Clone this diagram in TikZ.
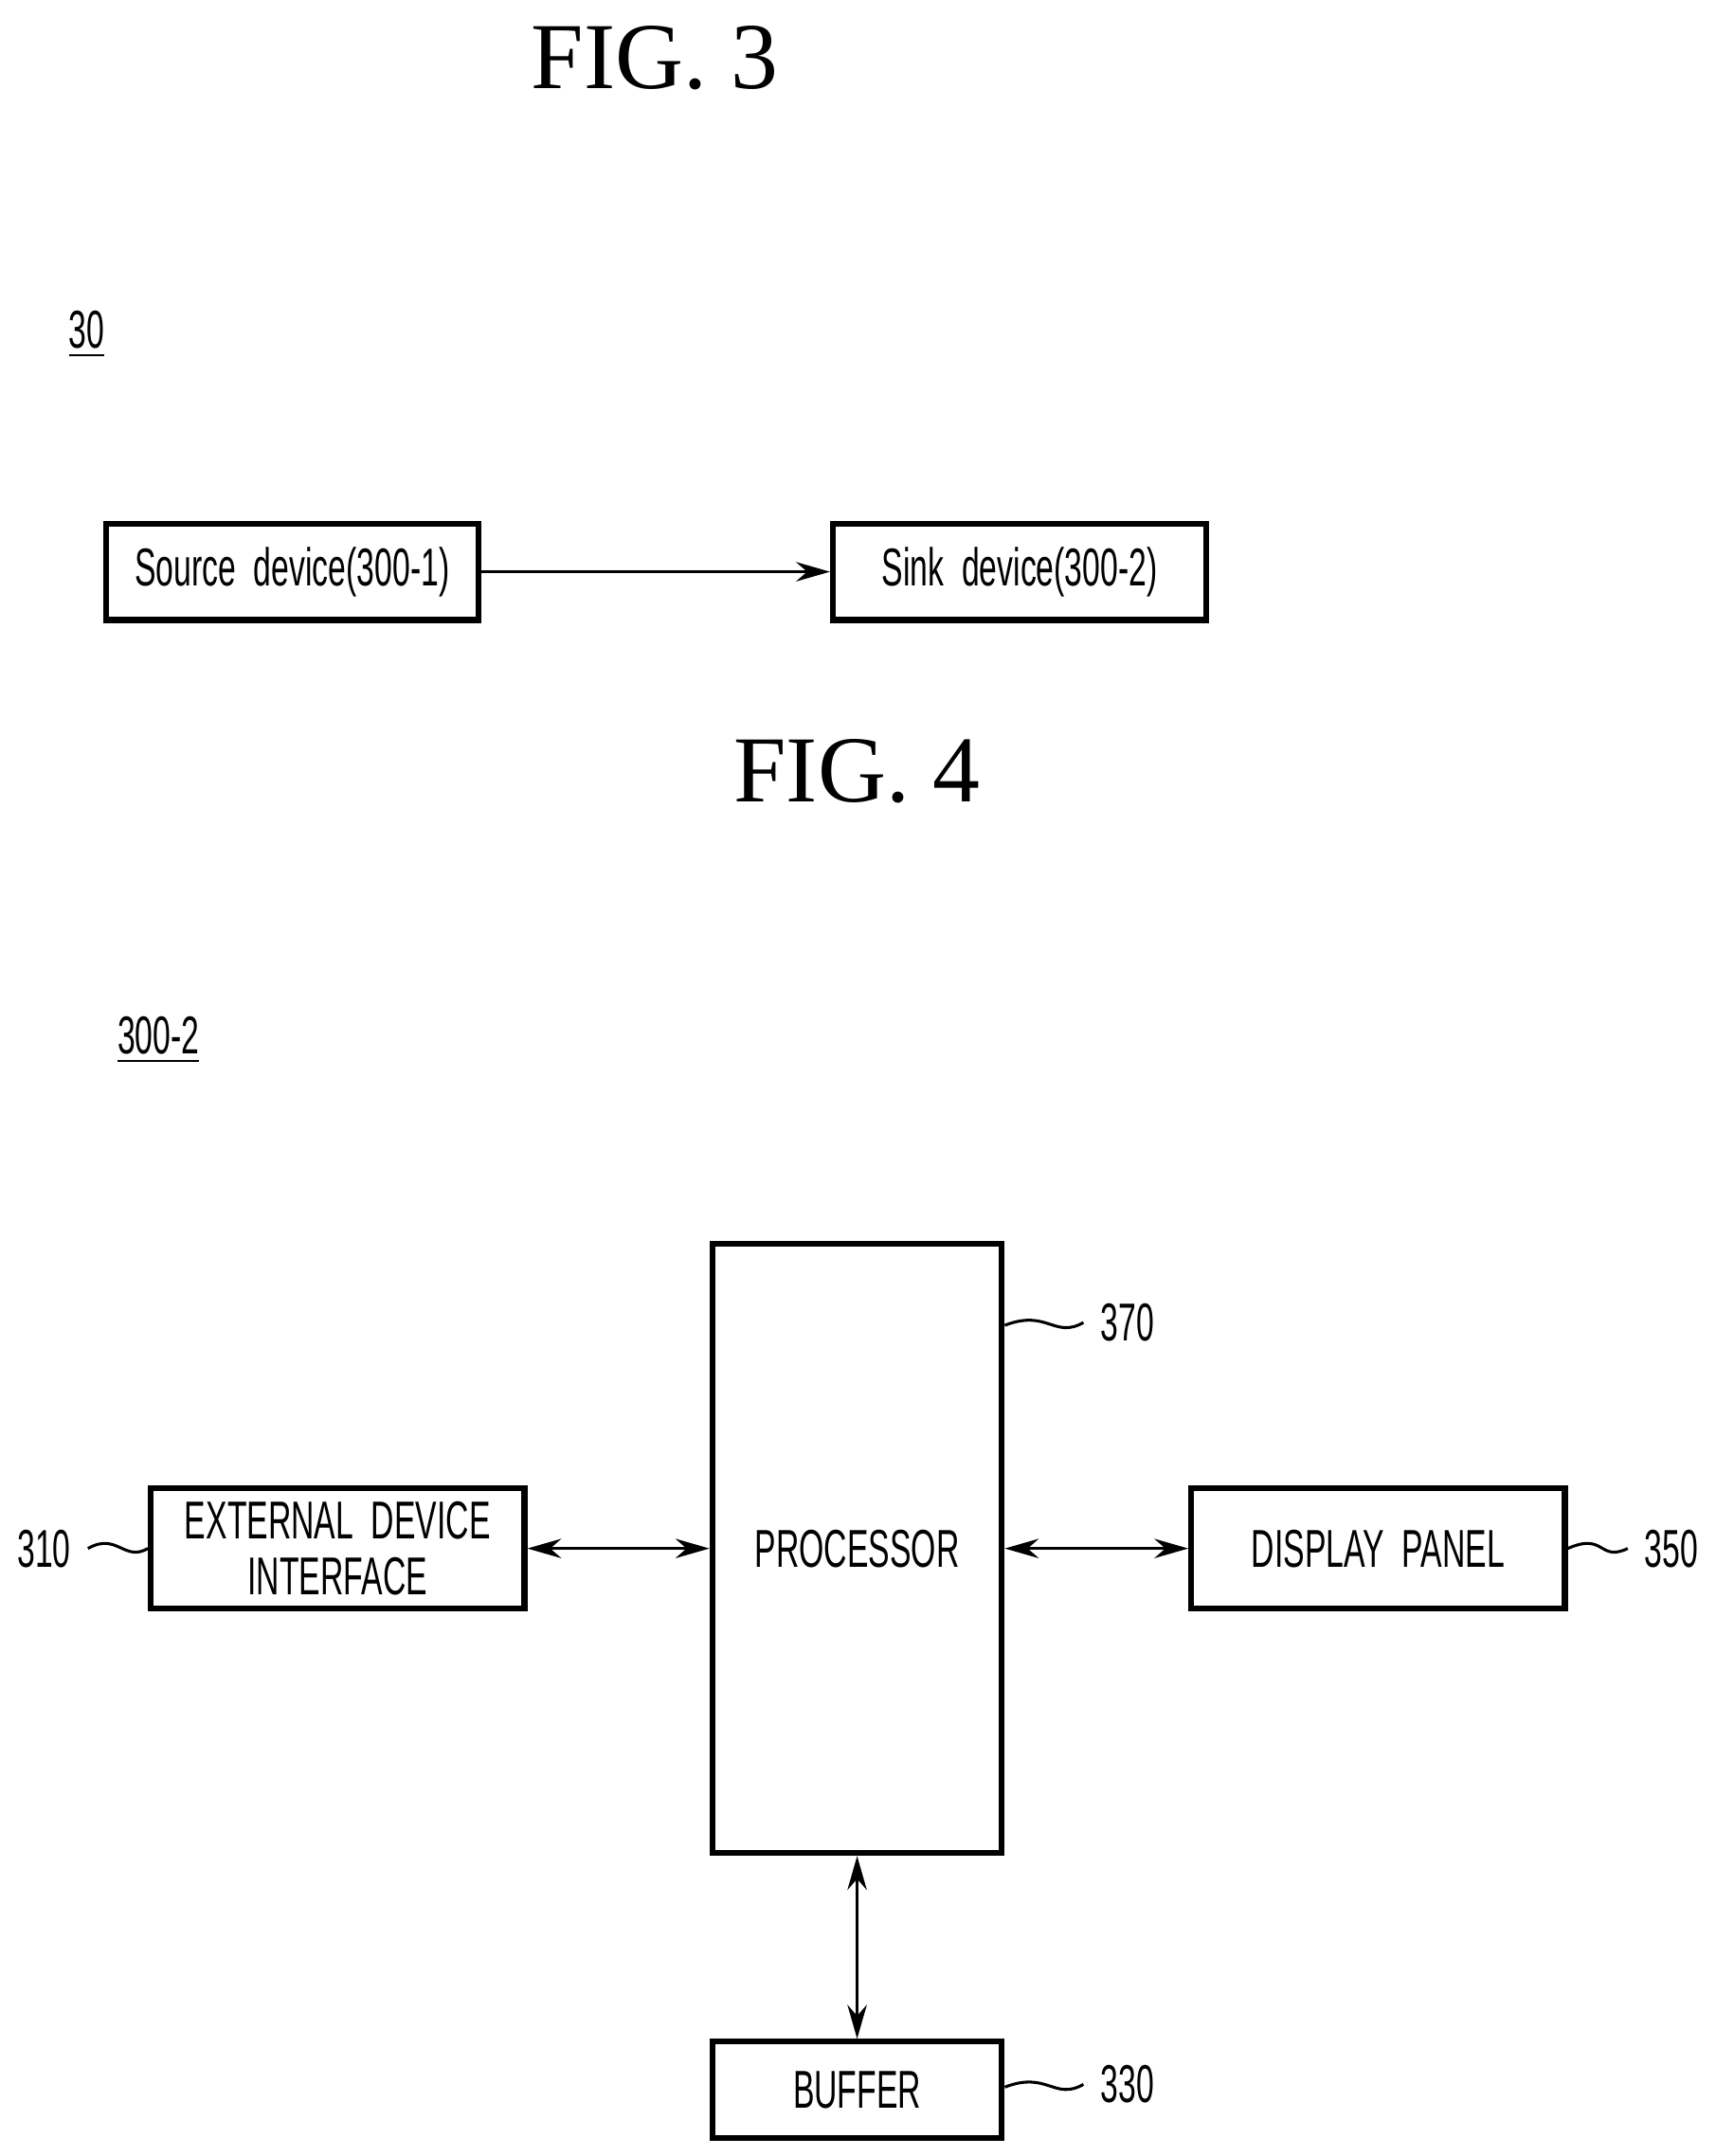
\documentclass[tikz,border=0pt]{standalone}
\usepackage{fontspec}
\setmainfont{Liberation Serif}
\newfontfamily\lblfont[FakeStretch=0.6]{Liberation Sans}
\usetikzlibrary{arrows.meta,positioning}
\tikzset{
  blk/.style={draw,line width=1.2pt,font=\lblfont\fontsize{11}{11.5}\selectfont,align=center,inner sep=0pt},
  fig/.style={font=\fontsize{19.5}{22}\selectfont},
  ref/.style={font=\lblfont\fontsize{11}{13}\selectfont},
  conn/.style={line width=0.6pt,{Stealth[length=7pt,width=4pt]}-{Stealth[length=7pt,width=4pt]}},
  wave/.style={line width=0.6pt}
}
\begin{document}
\begin{tikzpicture}[x=0.01cm,y=-0.01cm]
  \useasboundingbox (0,0) rectangle (1245,1565);

  % FIG. 3
  \node[fig] (fig3) at (475,42) {FIG. 3};
  \node[ref] (n30) at (63,243) {\underline{30}};
  \node[blk,text width=2.7cm,minimum height=0.7cm] (src) at (212,415) {Source device(300-1)};
  \node[blk,text width=2.71cm,minimum height=0.7cm] (snk) at (740,415) {Sink device(300-2)};
  \draw[line width=0.6pt,-{Stealth[length=7pt,width=4pt]}] (src) -- (snk);

  % FIG. 4
  \node[fig] (fig4) at (622,560) {FIG. 4};
  \node[ref] (n3002) at (115,755) {\underline{300-2}};
  \node[blk,text width=2.1cm,minimum height=4.42cm] (proc) at (622,1124) {PROCESSOR};
  \node[blk,text width=2.71cm,minimum height=0.87cm] (ext) at (245,1124) {EXTERNAL DEVICE\\INTERFACE};
  \node[blk,text width=2.71cm,minimum height=0.87cm] (disp) at (1000,1124) {DISPLAY PANEL};
  \node[blk,text width=2.1cm,minimum height=0.7cm] (buf) at (622,1517) {BUFFER};

  \draw[conn] (ext) -- (proc);
  \draw[conn] (proc) -- (disp);
  \draw[conn] (proc) -- (buf);

  % reference numerals
  \node[ref] (l370) at (818,960) {370};
  \node[ref] (l310) at (32,1124) {310};
  \node[ref] (l350) at (1213,1124) {350};
  \node[ref] (l330) at (818,1513) {330};
  \draw[wave] (proc.east |- 0,962) .. controls (760,950) and (765,972) .. (l370.west);
  \draw[wave] (l310.east) .. controls (85,1112) and (90,1134) .. (ext.west);
  \draw[wave] (disp.east) .. controls (1165,1112) and (1160,1134) .. (l350.west);
  \draw[wave] (buf.east |- 0,1515) .. controls (760,1503) and (765,1525) .. (l330.west);
\end{tikzpicture}
\end{document}
